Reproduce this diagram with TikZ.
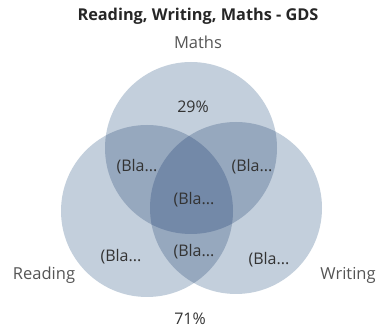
\documentclass[tikz,border=0pt]{standalone}
\usepackage{fontspec}
\setmainfont{Open Sans}
\definecolor{one}{HTML}{C3CFDC}
\definecolor{two}{HTML}{96A8BE}
\definecolor{three}{HTML}{7389A8}
\definecolor{txt}{HTML}{333333}
\definecolor{lbl}{HTML}{555555}
\begin{document}
\begin{tikzpicture}[x=1pt,y=-1pt,
  val/.style={text=txt,font=\fontsize{16}{18}\selectfont,inner sep=0pt},
  cat/.style={text=lbl,font=\fontsize{16.5}{19}\selectfont,inner sep=0pt},
  ttl/.style={text=black!85,font=\bfseries\fontsize{16.3}{19}\selectfont,inner sep=0pt}]
\useasboundingbox (0,0) rectangle (378,331);
\def\rr{86}
\coordinate (M) at (191,148);
\coordinate (R) at (147,211);
\coordinate (W) at (236,208);
\fill[one] (M) circle (\rr);
\fill[one] (R) circle (\rr);
\fill[one] (W) circle (\rr);
\begin{scope}\clip (M) circle (\rr); \fill[two] (R) circle (\rr); \fill[two] (W) circle (\rr);\end{scope}
\begin{scope}\clip (R) circle (\rr); \fill[two] (W) circle (\rr);\end{scope}
\begin{scope}\clip (M) circle (\rr); \clip (R) circle (\rr); \fill[three] (W) circle (\rr);\end{scope}
\node[ttl] (title) at (198,16) {Reading, Writing, Maths - GDS};
\node[cat] (maths) at (198,42) {Maths};
\node[cat] (reading) at (44,275) {Reading};
\node[cat] (writing) at (348,275) {Writing};
\node[val] (m) at (193,107) {29\%};
\node[val] (rm) at (137,167) {(Bla...};
\node[val] (mw) at (252,167) {(Bla...};
\node[val] (rmw) at (194,200) {(Bla...};
\node[val] (rw) at (194,252) {(Bla...};
\node[val] (r) at (121,257) {(Bla...};
\node[val] (w) at (269,260) {(Bla...};
\node[val] (none) at (190,319) {71\%};
\end{tikzpicture}
\end{document}
